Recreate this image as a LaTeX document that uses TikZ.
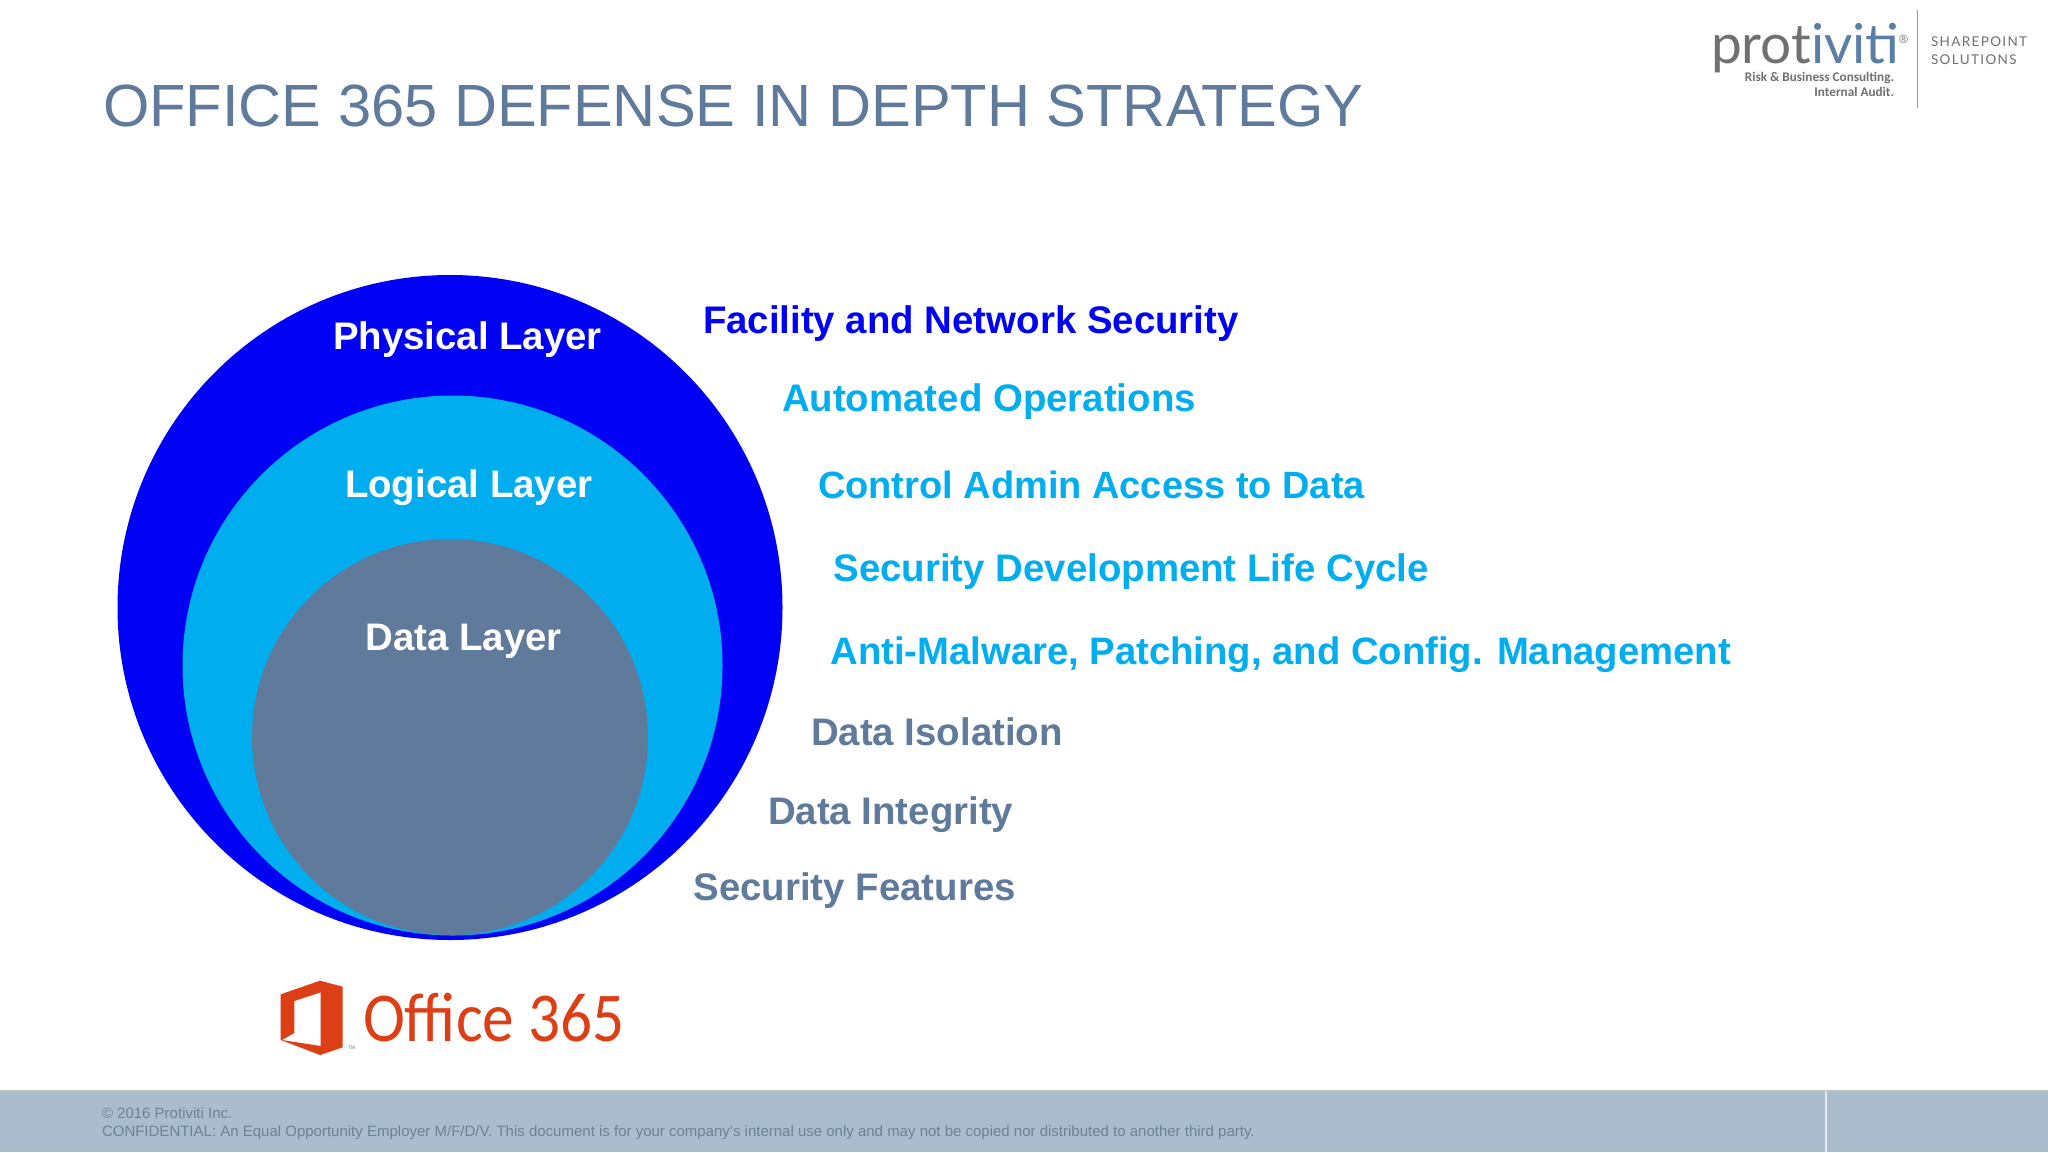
\documentclass[tikz,border=0pt]{standalone}
\usepackage{fontspec}
\setmainfont{Liberation Sans}
\newfontfamily\logofont{Lato}
\newfontfamily\officefont{Carlito}
\definecolor{slatetext}{HTML}{5F7A9B}
\definecolor{skytext}{HTML}{00AEEF}
\definecolor{purefill}{HTML}{0000F5}
\definecolor{footfill}{HTML}{ABBCCD}
\definecolor{foottext}{HTML}{6C8197}
\definecolor{officered}{HTML}{DC3E15}
\definecolor{logogray}{HTML}{707070}
\definecolor{logoblue}{HTML}{5A7EA8}
\tikzset{
  txt/.style={anchor=base west,inner sep=0pt,outer sep=0pt},
  layerlabel/.style={txt,text=white,font=\fontsize{38.4}{38.4}\selectfont\bfseries},
  itemlabel/.style={txt,font=\fontsize{38.4}{38.4}\selectfont\bfseries},
  footlabel/.style={txt,text=foottext,font=\fontsize{15}{15}\selectfont},
}
\begin{document}
\begin{tikzpicture}[x=1pt,y=-1pt]
\useasboundingbox (0,0) rectangle (2048,1152);
\fill[white] (0,0) rectangle (2048,1152);

\node[txt,text=slatetext,font=\fontsize{59.6}{59.6}\selectfont] (title) at (103,126) {OFFICE 365 DEFENSE IN DEPTH STRATEGY};

% circles
\fill[purefill] (450,607.5) circle (332.5);
\fill[skytext] (452.5,665.5) circle (270);
\fill[slatetext] (450,737) circle (198);

\node[layerlabel] (physical) at (333,349) {Physical Layer};
\node[layerlabel] (logical) at (345,497.5) {Logical Layer};
\node[layerlabel] (data) at (365.5,650) {Data Layer};

\node[itemlabel,text=purefill] (facility) at (703,333) {Facility and Network Security};
\node[itemlabel,text=skytext] (automated) at (782,411) {Automated Operations};
\node[itemlabel,text=skytext,font=\fontsize{38}{38}\selectfont\bfseries] (control) at (818,498) {Control Admin Access to Data};
\node[itemlabel,text=skytext] (lifecycle) at (833.5,581) {Security Development Life Cycle};
\node[itemlabel,text=skytext,font=\fontsize{38.25}{38.25}\selectfont\bfseries] (malware) at (830.5,664) {Anti-Malware, Patching, and Config. Management};
\node[itemlabel,text=slatetext] (isolation) at (811,745) {Data Isolation};
\node[itemlabel,text=slatetext] (integrity) at (768,824) {Data Integrity};
\node[itemlabel,text=slatetext] (features) at (693.5,900) {Security Features};

% office logo
\fill[officered,even odd rule] (280.7,994.3) -- (320,980.7) -- (342.7,986.7) -- (342.7,1047.3) -- (320,1055) -- (280.7,1040) -- cycle
  (294.3,1001) -- (320.7,992.3) -- (320.7,1046) -- (282,1040) -- (294.3,1033) -- cycle;
\node[txt,text=officered,font=\fontsize{70}{70}\selectfont\officefont,xscale=0.904,transform shape] (office) at (363,1041) {Office 365};
\node[txt,text=logogray,font=\fontsize{5}{5}\selectfont] (tm) at (348,1049) {TM};

% protiviti logo
\node[txt,font=\fontsize{55}{55}\selectfont\logofont] (protiviti) at (1711,63) {\textcolor{logogray}{prot}\textcolor{logoblue}{iviti}};
\node[txt,text=logogray,font=\fontsize{12}{12}\selectfont] (reg) at (1899,43) {®};
\node[txt,anchor=base east,text=logogray,font=\fontsize{13.2}{13.2}\selectfont\officefont\bfseries] (consult) at (1894,81) {Risk \& Business Consulting.};
\node[txt,anchor=base east,text=logogray,font=\fontsize{13.2}{13.2}\selectfont\officefont\bfseries] (audit) at (1894,96) {Internal Audit.};
\draw[logogray!70,line width=1pt] (1917,10) -- (1917,108);
\node[txt,text=logogray,font=\fontsize{13.5}{13.5}\selectfont\logofont] (sharepoint) at (1931,46) {\addfontfeature{LetterSpace=10}SHAREPOINT};
\node[txt,text=logogray,font=\fontsize{13.5}{13.5}\selectfont\logofont] (solutions) at (1931,64) {\addfontfeature{LetterSpace=10}SOLUTIONS};

% footer
\fill[footfill] (0,1090) rectangle (2048,1152);
\draw[black!25,line width=1.5pt] (0,1091) -- (2048,1091);
\draw[white!70!footfill,line width=2pt] (1826,1091) -- (1826,1152);
\node[footlabel] (copyright) at (102,1118) {© 2016 Protiviti Inc.};
\node[footlabel] (confidential) at (102,1136) {CONFIDENTIAL: An Equal Opportunity Employer M/F/D/V. This document is for your company's internal use only and may not be copied nor distributed to another third party.};
\end{tikzpicture}
\end{document}
